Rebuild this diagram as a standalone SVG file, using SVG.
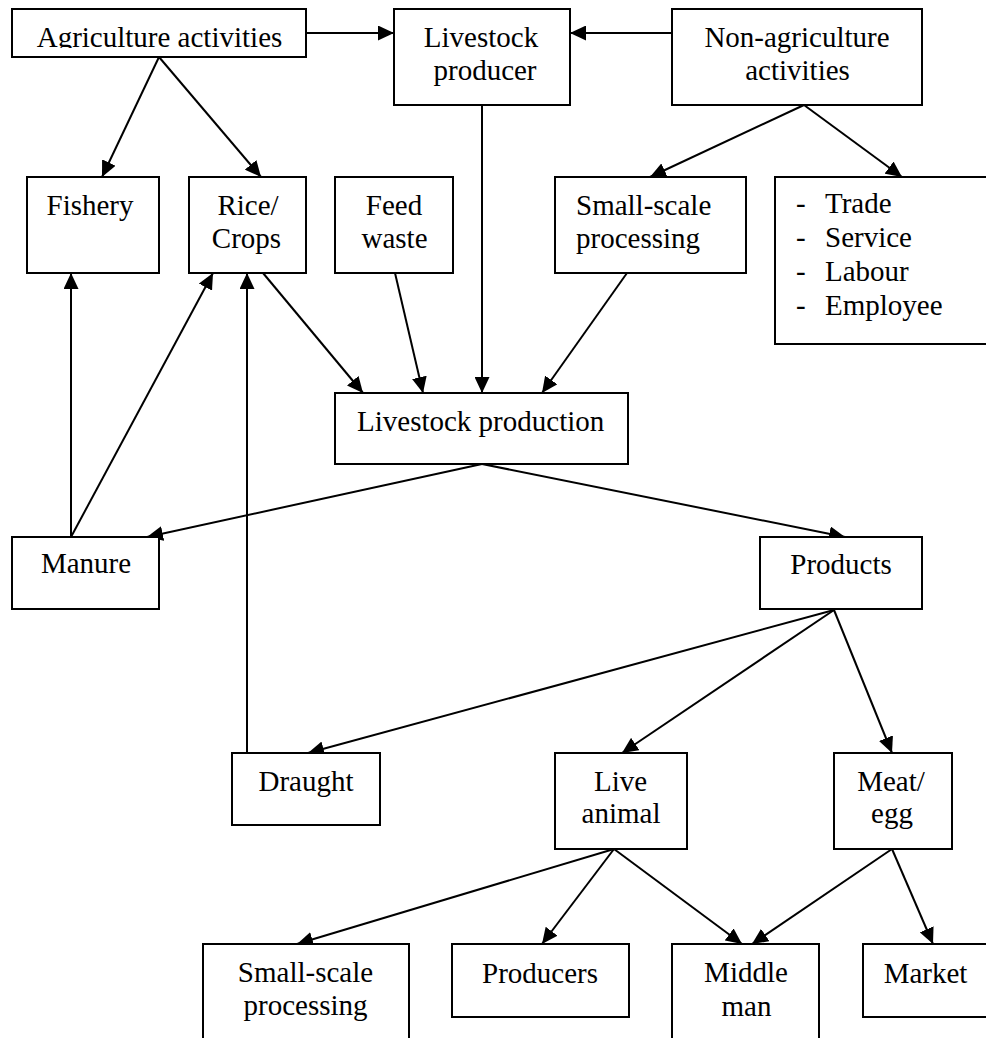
<svg xmlns="http://www.w3.org/2000/svg" width="986" height="1038" viewBox="0 0 986 1038">
<style>
.box{fill:#fff;stroke:#000;stroke-width:2}
text{font-family:"Liberation Serif",Tinos,"Times New Roman",Times,"DejaVu Serif","Noto Serif",serif;font-size:29px;fill:#000}
.c{text-anchor:middle}
.ln{stroke:#000;stroke-width:2;fill:none}
</style>
<defs>
<marker id="ah" markerUnits="userSpaceOnUse" markerWidth="17" markerHeight="15" refX="16" refY="7.5" orient="auto">
<path d="M0,0 L16,7.5 L0,15 z" fill="#000"/>
</marker>
<clipPath id="agclip"><rect x="12" y="9" width="294" height="39"/></clipPath>
</defs>
<rect width="986" height="1038" fill="#fff"/>

<g id="connectors">
<line class="ln" x1="306" y1="33" x2="394" y2="33" marker-end="url(#ah)"/>
<line class="ln" x1="672" y1="33" x2="570" y2="33" marker-end="url(#ah)"/>
<line class="ln" x1="159" y1="57" x2="102" y2="177" marker-end="url(#ah)"/>
<line class="ln" x1="159" y1="57" x2="261" y2="177" marker-end="url(#ah)"/>
<line class="ln" x1="804" y1="105" x2="650" y2="177" marker-end="url(#ah)"/>
<line class="ln" x1="804" y1="105" x2="902" y2="177" marker-end="url(#ah)"/>
<line class="ln" x1="482" y1="105" x2="482" y2="393" marker-end="url(#ah)"/>
<line class="ln" x1="263" y1="273" x2="363" y2="393" marker-end="url(#ah)"/>
<line class="ln" x1="395" y1="273" x2="423" y2="393" marker-end="url(#ah)"/>
<line class="ln" x1="627" y1="273" x2="542" y2="393" marker-end="url(#ah)"/>
<line class="ln" x1="71" y1="537" x2="71" y2="273" marker-end="url(#ah)"/>
<line class="ln" x1="71" y1="537" x2="213" y2="273" marker-end="url(#ah)"/>
<line class="ln" x1="247" y1="753" x2="247" y2="273" marker-end="url(#ah)"/>
<line class="ln" x1="482" y1="464" x2="147" y2="537" marker-end="url(#ah)"/>
<line class="ln" x1="482" y1="464" x2="845" y2="537" marker-end="url(#ah)"/>
<line class="ln" x1="834" y1="610" x2="308" y2="753" marker-end="url(#ah)"/>
<line class="ln" x1="834" y1="610" x2="622" y2="753" marker-end="url(#ah)"/>
<line class="ln" x1="834" y1="610" x2="892" y2="753" marker-end="url(#ah)"/>
<line class="ln" x1="614" y1="849" x2="297" y2="944" marker-end="url(#ah)"/>
<line class="ln" x1="614" y1="849" x2="542" y2="944" marker-end="url(#ah)"/>
<line class="ln" x1="614" y1="849" x2="742" y2="944" marker-end="url(#ah)"/>
<line class="ln" x1="892" y1="849" x2="752" y2="944" marker-end="url(#ah)"/>
<line class="ln" x1="892" y1="849" x2="933" y2="944" marker-end="url(#ah)"/>
</g>

<g id="agriculture">
<rect class="box" x="12" y="9" width="294" height="48"/>
<text class="c" x="159.5" y="47" clip-path="url(#agclip)">Agriculture activities</text>
</g>
<g id="livestock-producer">
<rect class="box" x="394" y="9" width="176" height="96"/>
<text class="c" x="481" y="47">Livestock</text>
<text class="c" x="485" y="80">producer</text>
</g>
<g id="non-agriculture">
<rect class="box" x="672" y="9" width="250" height="96"/>
<text class="c" x="797" y="47">Non-agriculture</text>
<text class="c" x="797.5" y="80">activities</text>
</g>
<g id="fishery">
<rect class="box" x="27" y="177" width="132" height="96"/>
<text class="c" x="90" y="215">Fishery</text>
</g>
<g id="rice-crops">
<rect class="box" x="189" y="177" width="117" height="96"/>
<text class="c" x="248" y="215">Rice/</text>
<text class="c" x="246.5" y="248">Crops</text>
</g>
<g id="feed-waste">
<rect class="box" x="335" y="177" width="118" height="96"/>
<text class="c" x="394" y="215">Feed</text>
<text class="c" x="394.5" y="248">waste</text>
</g>
<g id="small-scale-top">
<rect class="box" x="555" y="177" width="191" height="96"/>
<text x="576" y="215">Small-scale</text>
<text x="576" y="248">processing</text>
</g>
<g id="non-agri-list">
<rect class="box" x="775" y="177" width="240" height="167"/>
<text x="796" y="213">-</text><text x="825" y="213">Trade</text>
<text x="796" y="247">-</text><text x="825" y="247">Service</text>
<text x="796" y="281">-</text><text x="825" y="281">Labour</text>
<text x="796" y="315">-</text><text x="825" y="315">Employee</text>
</g>
<g id="livestock-production">
<rect class="box" x="335" y="393" width="293" height="71"/>
<text x="357" y="431">Livestock production</text>
</g>
<g id="manure">
<rect class="box" x="12" y="537" width="147" height="72"/>
<text class="c" x="86" y="573">Manure</text>
</g>
<g id="products">
<rect class="box" x="760" y="537" width="162" height="72"/>
<text class="c" x="841" y="574">Products</text>
</g>
<g id="draught">
<rect class="box" x="232" y="753" width="148" height="72"/>
<text class="c" x="306" y="791">Draught</text>
</g>
<g id="live-animal">
<rect class="box" x="555" y="753" width="132" height="96"/>
<text class="c" x="620.5" y="791">Live</text>
<text class="c" x="621" y="823">animal</text>
</g>
<g id="meat-egg">
<rect class="box" x="834" y="753" width="118" height="96"/>
<text class="c" x="891" y="791">Meat/</text>
<text class="c" x="892" y="823">egg</text>
</g>
<g id="small-scale-bottom">
<rect class="box" x="203" y="944" width="206" height="120"/>
<text class="c" x="305.5" y="982">Small-scale</text>
<text class="c" x="305.5" y="1015">processing</text>
</g>
<g id="producers">
<rect class="box" x="452" y="944" width="177" height="73"/>
<text class="c" x="540" y="983">Producers</text>
</g>
<g id="middle-man">
<rect class="box" x="672" y="944" width="147" height="120"/>
<text class="c" x="746" y="982">Middle</text>
<text class="c" x="746.5" y="1016">man</text>
</g>
<g id="market">
<rect class="box" x="863" y="944" width="150" height="73"/>
<text class="c" x="925.5" y="983">Market</text>
</g>
</svg>
